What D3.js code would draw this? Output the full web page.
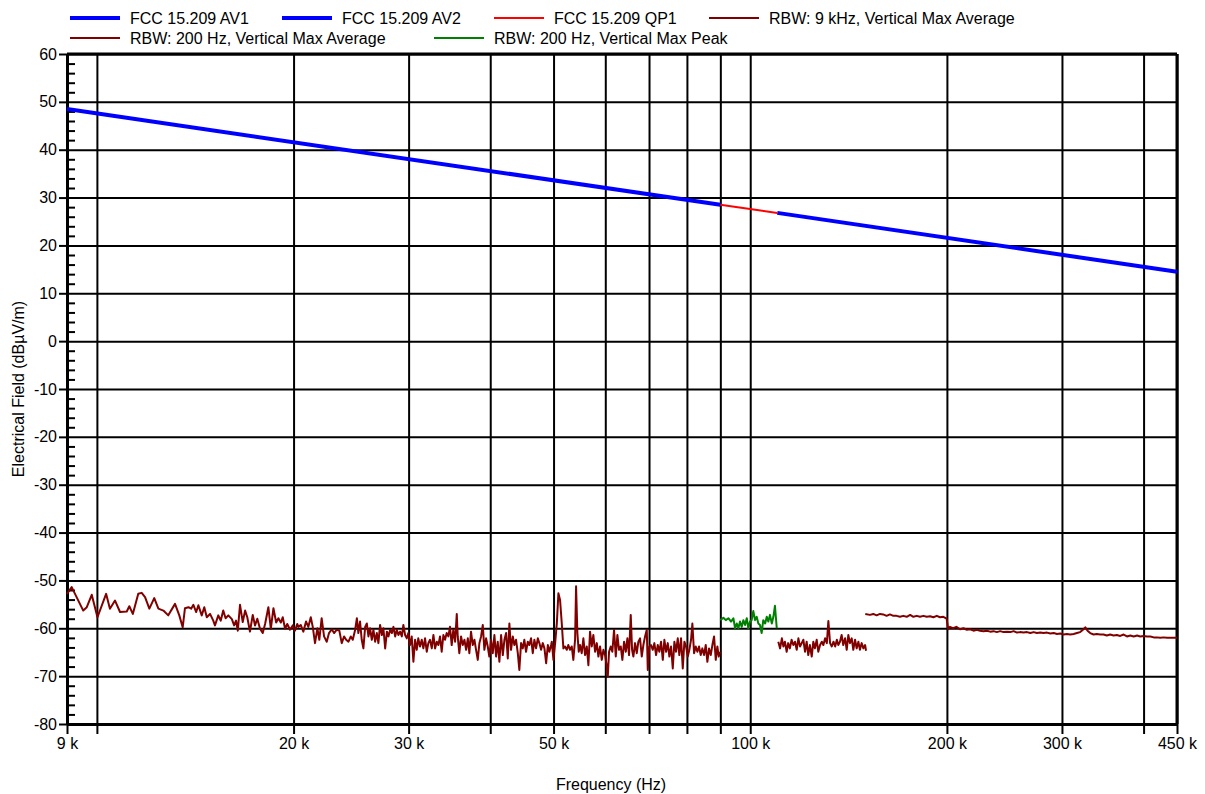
<!DOCTYPE html>
<html>
<head>
<meta charset="utf-8">
<script src="https://cdn.jsdelivr.net/npm/d3@7"></script>
<style>
  body { margin: 0; background: #fff; }
  text { font-family: "Liberation Sans", Arial, sans-serif; }
</style>
</head>
<body>
<script>
// frequencies in kHz, levels in dBµV/m
var limitAV1 = [[9, 48.5], [90, 28.5]];
var limitQP1 = [[90, 28.5], [110, 26.8]];
var limitAV2 = [[110, 26.8], [450, 14.5]];

// RBW 200 Hz, vertical max average, 9 kHz - 90 kHz
var avg200Low = [
  [9.00,-52.8],[9.15,-51.4],[9.53,-56.3],[9.65,-55.6],[9.82,-53.0],[10.02,-57.7],[10.33,-52.8],[10.47,-55.9],
  [10.66,-54.2],[10.85,-56.6],[11.11,-56.5],[11.21,-55.4],[11.35,-57.0],[11.57,-52.8],[11.71,-52.6],[11.85,-53.5],
  [12.03,-55.9],[12.24,-53.7],[12.42,-55.9],[12.64,-56.3],[12.86,-57.3],[13.17,-54.9],[13.37,-57.3],[13.53,-59.8],
  [13.64,-55.8],[13.81,-55.6],[13.94,-55.9],[14.05,-55.1],[14.19,-56.6],[14.30,-55.2],[14.47,-57.3],[14.60,-55.6],
  [14.73,-57.7],[14.90,-57.0],[15.07,-58.4],[15.16,-59.4],[15.34,-57.3],[15.47,-58.4],[15.61,-56.3],[15.74,-57.9],
  [15.89,-57.3],[16.09,-58.1],[16.22,-59.4],[16.33,-58.4],[16.43,-60.5],[16.56,-55.1],[16.72,-58.7],[16.86,-56.3],
  [16.99,-57.7],[17.15,-60.7],[17.32,-57.2],[17.46,-59.4],[17.60,-58.0],[17.77,-60.1],[17.94,-61.0],[18.09,-59.1],
  [18.30,-55.6],[18.46,-60.1],[18.63,-55.8],[18.81,-58.8],[18.96,-57.9],[19.12,-58.8],[19.25,-57.7],[19.41,-60.1],
  [19.56,-59.1],[19.75,-60.3],[19.94,-59.4],[20.10,-60.5],[20.26,-59.1],[20.34,-59.7],[20.51,-59.3],[20.70,-60.7],
  [20.90,-58.6],[21.07,-59.7],[21.25,-57.7],[21.40,-59.7],[21.57,-63.1],[21.75,-60.0],[21.90,-62.4],[22.08,-57.9],
  [22.27,-61.7],[22.48,-62.8],[22.66,-61.0],[22.88,-60.2],[23.07,-61.0],[23.29,-60.3],[23.50,-60.5],[23.70,-63.1],
  [23.90,-61.7],[24.07,-62.4],[24.27,-62.8],[24.47,-61.7],[24.64,-62.4],[24.85,-60.3],[25.00,-57.9],[25.13,-61.0],
  [25.28,-58.6],[25.43,-62.4],[25.58,-64.2],[25.74,-59.7],[25.89,-59.0],[26.04,-61.7],[26.19,-60.0],[26.35,-62.4],
  [26.50,-60.3],[26.66,-62.8],[26.82,-61.0],[26.97,-63.1],[27.13,-59.3],[27.30,-61.4],[27.45,-60.0],[27.62,-64.2],
  [27.79,-60.7],[27.94,-61.7],[28.11,-60.3],[28.28,-61.0],[28.44,-59.7],[28.61,-61.7],[28.78,-60.3],[28.94,-61.4],
  [29.11,-60.7],[29.29,-61.7],[29.45,-59.3],[29.63,-61.4],[29.81,-62.1],[29.97,-61.0],[30.15,-63.5],[30.33,-61.7],
  [30.51,-67.0],[30.69,-62.4],[30.87,-64.5],[31.04,-62.1],[31.23,-63.8],[31.42,-62.4],[31.60,-64.2],[31.79,-62.1],
  [31.98,-64.9],[32.16,-63.1],[32.35,-62.4],[32.55,-64.2],[32.74,-61.4],[32.93,-64.2],[33.13,-62.8],[33.32,-63.5],
  [33.51,-61.7],[33.71,-64.9],[33.91,-61.4],[34.11,-62.4],[34.31,-61.0],[34.51,-61.7],[34.71,-59.7],[34.92,-63.5],
  [35.12,-60.3],[35.34,-62.8],[35.55,-57.0],[35.67,-61.7],[35.87,-65.2],[36.09,-61.7],[36.31,-63.5],[36.52,-62.4],
  [36.74,-64.5],[36.96,-62.1],[37.16,-65.2],[37.38,-60.7],[37.61,-63.5],[37.83,-62.4],[38.05,-64.5],[38.28,-66.6],
  [38.50,-63.1],[38.73,-61.7],[38.96,-59.3],[39.18,-64.5],[39.42,-62.1],[39.65,-63.8],[39.87,-65.9],[40.11,-62.4],
  [40.36,-65.2],[40.59,-61.4],[40.83,-65.9],[41.07,-62.8],[41.31,-67.0],[41.56,-61.4],[41.81,-65.6],[42.05,-62.4],
  [42.30,-61.0],[42.55,-66.3],[42.79,-59.0],[43.04,-64.5],[43.31,-61.7],[43.55,-63.5],[43.81,-62.4],[44.08,-65.2],
  [44.32,-68.7],[44.59,-63.1],[44.86,-64.2],[45.11,-62.4],[45.38,-64.9],[45.66,-62.8],[45.91,-63.5],[46.19,-62.1],
  [46.47,-65.2],[46.73,-62.4],[47.01,-64.2],[47.30,-62.1],[47.56,-63.1],[47.85,-64.5],[48.14,-63.1],[48.42,-64.2],
  [48.71,-67.3],[49.00,-63.5],[49.27,-64.9],[49.57,-63.5],[49.69,-62.8],[49.98,-66.6],[50.28,-63.1],[50.58,-59.0],
  [50.86,-52.7],[51.16,-54.1],[51.47,-59.0],[51.76,-64.2],[52.07,-63.8],[52.38,-64.5],[52.67,-63.5],[52.99,-64.5],
  [53.31,-63.8],[53.61,-66.6],[53.94,-62.4],[54.13,-51.2],[54.38,-61.0],[54.64,-64.9],[54.89,-63.5],[55.22,-65.2],
  [55.54,-62.1],[55.88,-65.6],[56.21,-63.8],[56.53,-67.7],[56.86,-60.7],[57.21,-63.8],[57.53,-61.4],[57.88,-64.9],
  [58.23,-63.1],[58.56,-65.9],[58.90,-63.8],[59.26,-66.6],[59.60,-64.5],[59.96,-65.6],[60.32,-68.0],[60.53,-70.1],
  [60.80,-64.9],[61.16,-63.8],[61.51,-64.9],[61.88,-60.3],[62.26,-65.9],[62.61,-61.4],[62.98,-64.5],[63.36,-63.8],
  [63.72,-66.6],[64.11,-62.8],[64.50,-64.9],[64.86,-62.1],[65.24,-65.6],[65.63,-57.2],[65.94,-64.5],[66.24,-65.9],
  [66.64,-63.1],[67.04,-65.2],[67.42,-62.8],[67.82,-62.1],[68.23,-65.9],[68.62,-63.5],[69.03,-61.7],[69.45,-60.3],
  [69.69,-68.7],[70.08,-63.8],[70.50,-63.5],[70.93,-64.5],[71.33,-63.1],[71.76,-65.6],[72.19,-63.5],[72.59,-64.9],
  [73.03,-62.8],[73.48,-66.6],[73.89,-62.4],[74.34,-64.9],[74.78,-63.1],[75.20,-65.9],[75.65,-63.8],[76.11,-68.4],
  [76.54,-62.8],[77.00,-64.9],[77.46,-62.1],[77.89,-65.6],[78.36,-62.1],[78.84,-68.4],[79.29,-62.8],[79.76,-63.8],
  [80.24,-65.9],[80.69,-64.5],[81.17,-62.4],[81.55,-59.0],[82.04,-65.2],[82.53,-63.8],[83.00,-64.9],[83.49,-63.8],
  [83.99,-65.6],[84.47,-64.2],[84.98,-65.6],[85.49,-63.5],[85.98,-67.0],[86.49,-64.2],[87.01,-65.6],[87.51,-63.5],
  [88.03,-61.7],[88.56,-66.6],[89.06,-63.8],[89.50,-65.9],[89.90,-64.9]
];

// RBW 200 Hz, vertical max peak, 90 kHz - 110 kHz
var peak200 = [
  [90.0,-58.3],[90.97,-57.8],[91.75,-58.3],[92.59,-57.9],[93.46,-58.6],[94.23,-57.9],[94.80,-60.0],[95.37,-59.0],
  [95.90,-60.0],[96.46,-58.6],[97.05,-59.7],[97.60,-58.3],[98.19,-59.3],[98.78,-57.9],[99.33,-60.0],[99.92,-58.6],
  [100.5,-58.3],[101.1,-56.4],[101.7,-58.3],[102.3,-57.6],[102.9,-59.0],[103.5,-59.3],[104.1,-61.0],[104.7,-58.3],
  [105.4,-59.0],[106.0,-57.6],[106.6,-58.6],[107.2,-57.2],[107.9,-59.0],[108.5,-57.6],[109.1,-55.3],[109.8,-60.0]
];

// RBW 200 Hz, vertical max average, 110 kHz - 150 kHz
var avg200Mid = [
  [110.4,-62.8],[111.1,-64.2],[111.8,-62.1],[112.4,-63.8],[113.0,-62.8],[113.7,-64.9],[114.3,-63.1],[115.0,-64.2],
  [115.7,-62.4],[116.4,-63.5],[117.1,-62.8],[117.8,-64.5],[118.5,-62.1],[119.2,-63.8],[119.9,-63.1],[120.6,-62.4],
  [121.3,-64.9],[122.0,-62.8],[122.7,-65.6],[123.4,-63.5],[124.2,-65.9],[124.9,-62.8],[125.6,-64.2],[126.4,-62.4],
  [127.1,-64.9],[127.9,-63.5],[128.7,-62.8],[129.4,-63.5],[130.2,-62.1],[131.0,-63.1],[131.7,-58.5],[132.5,-63.1],
  [133.3,-63.8],[134.1,-62.8],[134.9,-63.8],[135.7,-62.4],[136.4,-63.5],[137.2,-62.8],[138.0,-61.4],[138.8,-63.5],
  [139.7,-62.1],[140.5,-64.5],[141.3,-61.4],[142.1,-63.1],[143.0,-62.1],[143.8,-64.5],[144.7,-62.4],[145.5,-64.2],
  [146.4,-62.8],[147.2,-64.5],[148.1,-63.1],[149.0,-64.2],[149.9,-63.5],[150.4,-64.7]
];

// RBW 9 kHz, vertical max average, 150 kHz - 450 kHz
var avg9k = [
  [150.0,-57.0],[152.5,-57.2],[154.3,-57.0],[156.1,-57.3],[158.0,-57.0],[159.8,-57.1],[161.7,-57.4],[163.6,-57.1],
  [165.6,-57.4],[167.5,-57.4],[169.5,-57.6],[171.5,-57.4],[173.6,-57.6],[175.7,-57.2],[177.7,-57.6],[179.8,-57.4],
  [181.9,-57.6],[184.1,-57.4],[186.3,-57.6],[188.5,-57.5],[190.7,-57.7],[193.0,-57.4],[195.2,-57.7],[197.5,-57.6],
  [199.8,-58.0],[200.9,-60.2],[202.1,-59.7],[204.4,-60.0],[206.8,-59.7],[209.5,-60.2],[212.0,-60.0],[214.6,-60.3],
  [217.1,-60.2],[219.7,-60.5],[222.2,-60.3],[224.8,-60.5],[227.5,-60.6],[230.2,-60.5],[233.0,-60.7],[235.7,-60.6],
  [238.5,-60.8],[241.3,-60.6],[244.2,-60.8],[247.2,-60.7],[250.1,-60.8],[253.0,-60.6],[256.0,-60.9],[258.9,-60.8],
  [262.0,-60.9],[265.2,-60.8],[268.3,-61.0],[271.5,-60.8],[274.7,-61.0],[277.9,-60.9],[281.2,-61.0],[284.6,-60.9],
  [288.0,-61.1],[291.4,-61.0],[294.9,-61.2],[298.1,-61.1],[301.7,-61.3],[305.3,-61.2],[308.9,-61.3],[312.6,-61.2],
  [316.3,-61.0],[319.9,-60.8],[323.0,-60.3],[325.7,-59.8],[328.3,-60.5],[331.4,-61.0],[335.3,-61.3],[339.3,-61.2],
  [343.3,-61.3],[347.3,-61.3],[351.4,-61.5],[355.6,-61.3],[359.8,-61.5],[364.0,-61.4],[368.4,-61.6],[372.8,-61.3],
  [377.3,-61.7],[381.8,-61.5],[386.3,-61.7],[391.0,-61.5],[395.3,-61.7],[400.2,-61.6],[404.9,-61.7],[409.7,-61.7],
  [414.6,-61.9],[419.5,-61.9],[424.2,-62.0],[429.2,-61.9],[434.4,-62.0],[439.6,-62.0],[444.8,-62.0],[450.0,-62.0]
];

var xTicks = [9, 10, 20, 30, 40, 50, 60, 70, 80, 90, 100, 200, 300, 400, 450];
var xLabels = {9: "9 k", 20: "20 k", 30: "30 k", 50: "50 k", 100: "100 k", 200: "200 k", 300: "300 k", 450: "450 k"};
var yTicks = [60, 50, 40, 30, 20, 10, 0, -10, -20, -30, -40, -50, -60, -70, -80];

var legendRows = [
  [{name: "FCC 15.209 AV1", color: "#0000ff", w: 4}, {name: "FCC 15.209 AV2", color: "#0000ff", w: 4},
   {name: "FCC 15.209 QP1", color: "#ff0000", w: 2}, {name: "RBW: 9 kHz, Vertical Max Average", color: "#800000", w: 2}],
  [{name: "RBW: 200 Hz, Vertical Max Average", color: "#800000", w: 2}, {name: "RBW: 200 Hz, Vertical Max Peak", color: "#008000", w: 2}]
];
var legendX = [[70, 282, 494, 709], [70, 434]];

var margin = {top: 54, right: 28, bottom: 70, left: 67};
var W = 1205, H = 794;
var width = W - margin.left - margin.right;
var height = H - margin.top - margin.bottom;

var x = d3.scaleLog().domain([9, 450]).range([0, width]);
var y = d3.scaleLinear().domain([-80, 60]).range([height, 0]);

var root = d3.select("body").append("svg").attr("width", W).attr("height", H);
var svg = root.append("g").attr("transform", "translate(" + margin.left + "," + margin.top + ")");

// grid
svg.append("g")
    .attr("transform", "translate(0," + height + ")")
    .call(d3.axisBottom(x).tickValues(xTicks).tickSize(-height).tickFormat(""))
    .call(function(g) { g.select(".domain").remove(); })
    .selectAll("line").attr("stroke", "#000").attr("stroke-width", 2);

svg.append("g")
    .call(d3.axisLeft(y).tickValues(yTicks).tickSize(-width).tickFormat(""))
    .call(function(g) { g.select(".domain").remove(); })
    .selectAll("line").attr("stroke", "#000").attr("stroke-width", 2);

// minor y ticks inside the plot
var minor = d3.range(-78, 60, 2).filter(function(v) { return v % 10 !== 0; });
svg.append("g")
    .call(d3.axisRight(y).tickValues(minor).tickSize(8).tickFormat(""))
    .call(function(g) { g.select(".domain").remove(); })
    .selectAll("line").attr("stroke", "#000").attr("stroke-width", 2);

// axes
var yAxis = svg.append("g")
    .call(d3.axisLeft(y).tickValues(yTicks).tickSize(8).tickSizeOuter(0).tickPadding(2).tickFormat(function(d) { return d < 0 ? "-" + (-d) : d; }));
yAxis.select(".domain").attr("stroke-width", 3);
yAxis.selectAll("line").attr("stroke-width", 2);
yAxis.selectAll("text").attr("font-size", "16px").attr("fill", "#000").attr("font-family", "Liberation Sans, Arial, sans-serif");

var xAxis = svg.append("g")
    .attr("transform", "translate(0," + height + ")")
    .call(d3.axisBottom(x).tickValues(xTicks).tickSize(10).tickSizeOuter(0).tickPadding(4).tickFormat(function(d) { return xLabels[d] || ""; }));
xAxis.select(".domain").attr("stroke-width", 3);
xAxis.selectAll("line").attr("stroke-width", 2);
xAxis.selectAll("text").attr("font-size", "16px").attr("fill", "#000").attr("font-family", "Liberation Sans, Arial, sans-serif");

// top and right border
svg.append("line").attr("x1", 0).attr("x2", width).attr("y1", 0).attr("y2", 0)
    .attr("stroke", "#000").attr("stroke-width", 3);
svg.append("line").attr("x1", width).attr("x2", width).attr("y1", 0).attr("y2", height)
    .attr("stroke", "#000").attr("stroke-width", 3);

// traces
var line = d3.line().x(function(d) { return x(d[0]); }).y(function(d) { return y(d[1]); });

function drawTrace(data, color, w) {
  svg.append("path").datum(data)
      .attr("d", line)
      .attr("fill", "none")
      .attr("stroke", color)
      .attr("stroke-width", w)
      .attr("stroke-linejoin", "round");
}

drawTrace(avg200Low, "#800000", 2);
drawTrace(avg200Mid, "#800000", 2);
drawTrace(avg9k, "#800000", 2);
drawTrace(peak200, "#008000", 2);
drawTrace(limitAV1, "#0000ff", 4);
drawTrace(limitAV2, "#0000ff", 4);
drawTrace(limitQP1, "#ff0000", 2);

// axis titles
root.append("text")
    .attr("x", 611)
    .attr("y", 790)
    .attr("text-anchor", "middle")
    .attr("font-size", "16px")
    .text("Frequency (Hz)");

root.append("text")
    .attr("transform", "translate(24," + (margin.top + height / 2) + ") rotate(-90)")
    .attr("text-anchor", "middle")
    .attr("font-size", "16px")
    .text("Electrical Field (dBµV/m)");

// legend
legendRows.forEach(function(row, r) {
  var ly = 18 + r * 20;
  row.forEach(function(item, i) {
    var lx = legendX[r][i];
    root.append("line")
        .attr("x1", lx).attr("x2", lx + 50)
        .attr("y1", ly).attr("y2", ly)
        .attr("stroke", item.color).attr("stroke-width", item.w);
    root.append("text")
        .attr("x", lx + 60).attr("y", ly + 6)
        .attr("font-size", "16px")
        .text(item.name);
  });
});
</script>
</body>
</html>
